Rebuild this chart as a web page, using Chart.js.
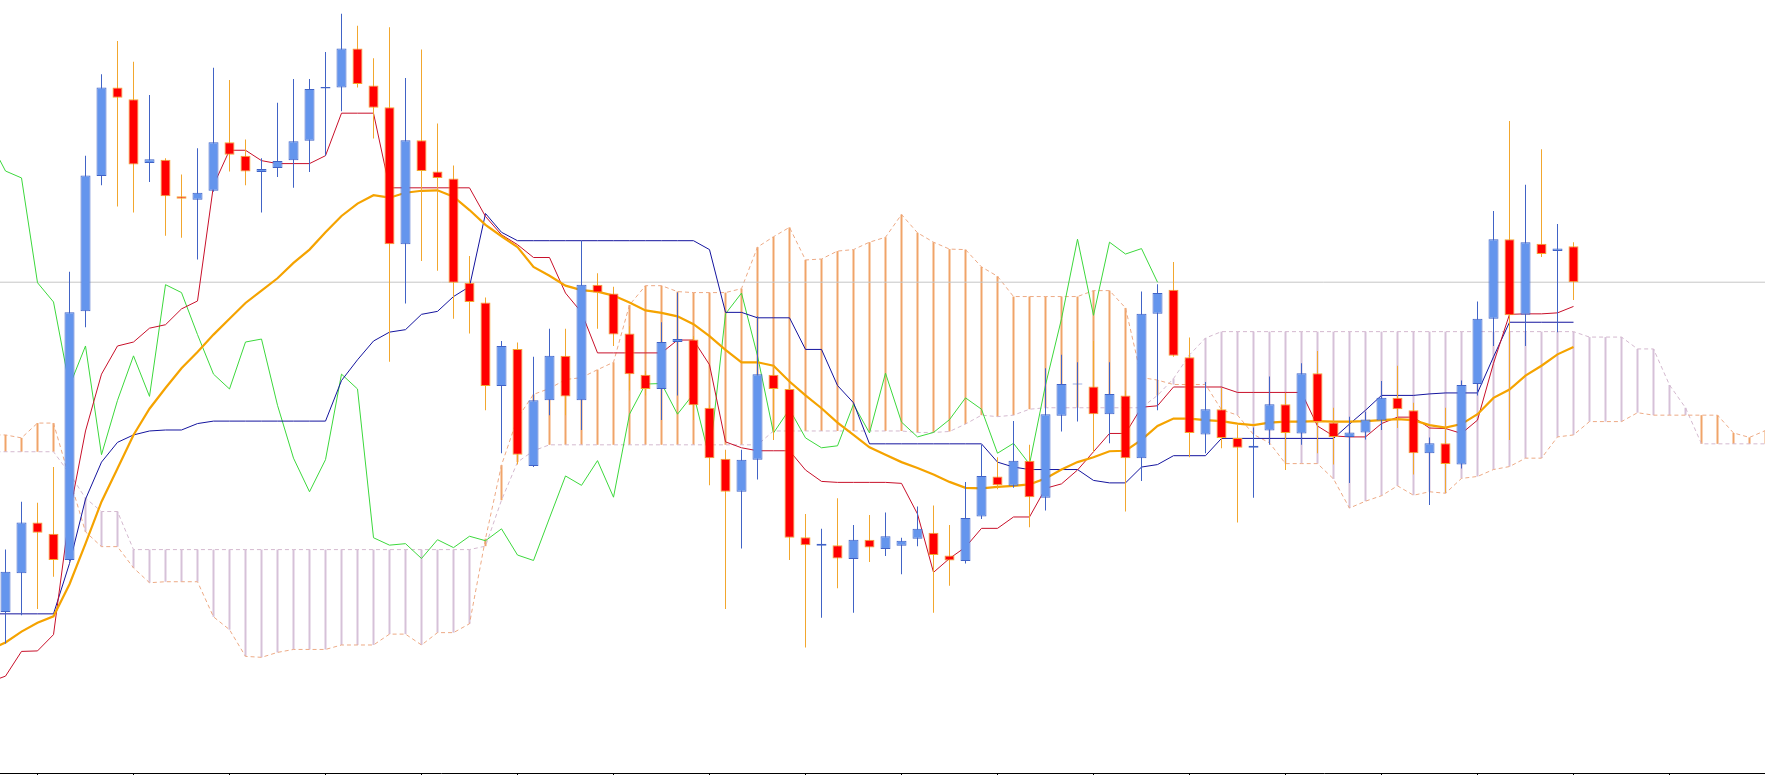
<!DOCTYPE html>
<html><head><meta charset="utf-8">
<script src="https://cdn.jsdelivr.net/npm/chart.js@4.4.1/dist/chart.umd.min.js"></script>
<style>html,body{margin:0;padding:0;background:#fff;overflow:hidden}canvas{display:block}</style>
</head><body>
<canvas id="c" width="1765" height="775"></canvas>
<script>
// ---- Candles (bar 0 .. 98), price in points ----
const opens = [
362,440,543,520,467,970,1244,1423,1399,1270,
1277,1203,1196,1214,1312,1285,1252,1260,1276,1315,
1421,1423,1502,1427,1383,1106,1316,1253,1239,1028,
988,819,894,657,790,880,790,1024,1006,925,
842,813,908,913,775,672,605,670,842,813,
513,496,497,469,508,489,496,510,522,476,
465,555,636,617,668,593,759,822,818,762,
800,673,965,1014,877,721,772,714,694,729,
782,723,845,745,716,725,749,795,770,683,
703,660,823,955,1116,963,1107,1092,1102];
const highs = [
488,585,583,655,1050,1285,1450,1517,1475,1408,
1280,1247,1300,1463,1438,1318,1280,1392,1440,1440,
1495,1572,1548,1482,1545,1442,1500,1350,1265,1082,
998,910,907,878,935,935,1113,1047,1020,940,
850,948,1008,920,780,690,690,960,860,820,
560,530,592,538,558,563,512,575,577,538,
625,700,675,748,700,855,882,867,910,867,
810,1010,1025,1070,917,827,815,740,735,838,
805,865,890,775,757,767,829,860,785,715,
775,830,990,1173,1355,1226,1298,1147,1110];
const lows = [
298,355,368,433,465,938,1225,1182,1170,1232,
1123,1119,1075,1212,1253,1225,1170,1242,1220,1252,
1285,1375,1423,1320,868,986,1072,1052,955,925,
770,683,660,655,760,760,730,935,900,810,
800,750,800,750,618,368,490,630,710,467,
290,350,410,360,463,475,438,495,360,415,
460,550,610,613,533,567,727,747,685,703,
565,627,770,878,675,683,693,543,593,700,
649,700,683,660,623,711,730,734,640,578,
603,652,800,900,710,900,1080,928,993];
const closes = [
443,543,522,467,968,1245,1423,1402,1267,1278,
1203,1198,1210,1312,1287,1253,1258,1274,1314,1420,
1424,1502,1430,1382,1106,1316,1254,1240,1028,989,
819,900,680,790,880,798,1024,1008,923,843,
813,908,914,780,673,605,670,843,813,512,
497,500,470,508,492,515,506,530,477,466,
552,637,618,668,594,762,823,824,762,803,
673,965,1007,880,724,772,714,694,698,782,
724,845,746,716,725,751,795,772,683,703,
661,821,955,1116,962,1110,1086,1097,1029];

// ---- Indicator series, first value belongs to bar -1 ----
const IND_START = -1;
const tenkan = [
220,232,282,283,316,560,728,843,900,908,936,
943,975,991,1225,1296,1296,1275,1269,1269,1269,
1285,1371,1371,1371,1220,1220,1220,1220,1220,1220,
1162,1125,1105,1079,1079,1007,968,886,886,886,
886,886,912,912,862,706,694,688,688,688,
649,626,624,624,624,624,622,560,442,470,
493,531,531,554,554,612,621,649,686,723,
723,776,779,817,817,817,817,806,806,806,
806,806,738,718,716,716,743,756,756,734,
733,723,750,865,964,965,965,967,980];
const kijun = [
358,358,358,358,358,460,590,665,705,720,728,
730,730,743,748,748,748,748,748,748,748,
748,830,872,910,928,933,964,970,1000,1020,
1168,1130,1113,1113,1113,1113,1113,1113,1113,1113,
1113,1113,1113,1113,1095,968,968,957,957,957,
893,893,820,785,702,702,702,702,702,702,
702,702,665,655,650,650,650,650,628,623,
623,655,660,678,678,678,713,713,713,713,
713,713,713,713,742,770,800,800,800,803,
805,805,805,878,948,948,948,948,948];
const movingAvg = [
285,300,322,340,353,418,500,585,652,720,773,
815,855,888,923,955,987,1012,1037,1068,1095,
1130,1163,1188,1205,1200,1210,1214,1215,1202,1175,
1145,1122,1100,1060,1042,1022,1013,1010,1002,988,
972,967,960,944,920,892,867,867,860,828,
800,774,745,720,695,680,665,653,640,625,
613,612,615,617,620,632,650,665,675,687,
688,710,738,753,753,750,748,743,740,745,
747,747,748,747,747,748,750,752,750,740,
735,742,762,795,812,840,860,883,898];
const chikou = [
1316,1254,1240,1028,989,819,900,680,790,880,798,
1024,1008,923,843,813,908,914,780,673,605,
670,843,813,512,497,500,470,508,492,515,
506,530,477,466,552,637,618,668,594,762,
823,824,762,803,673,965,1007,880,724,772,
714,694,698,782,724,845,746,716,725,751,
795,772,683,703,661,821,955,1116,962,1110,
1086,1097,1029];
const spanA = [
720,720,714,744,744,632,524,494,494,451,421,
423,423,423,352,326,272,270,280,286,286,
286,295,295,295,317,317,295,320,320,338,
510,659,754,802,814,832,836,852,867,983,
1022,1022,1010,1008,1008,1008,1016,1100,1121,1140,
1074,1076,1092,1095,1110,1120,1166,1129,1110,1096,
1095,1060,1041,1000,1000,1000,1000,1000,1012,1012,
977,836,831,822,822,822,771,760,721,704,
662,662,662,631,572,586,597,617,598,605,
602,632,636,650,656,673,673,716,720,747,
747,747,765,760,760,760,760,760,724,715,
729];
const spanB = [
686,686,686,686,686,642,592,565,565,488,488,
488,488,488,488,488,488,488,488,488,488,
488,488,488,488,488,488,488,488,488,488,
495,588,665,688,700,700,700,700,700,700,
700,700,700,700,700,700,700,700,728,728,
728,728,728,728,728,728,728,725,725,727,
742,760,757,760,772,775,775,775,775,775,
775,775,800,834,882,916,929,929,929,929,
929,929,929,929,929,929,929,929,929,929,
929,929,929,929,929,929,929,929,929,918,
918,918,894,894,821,775,702,702,702,702,
702];
const lastPrice = 1029;
const tickBars = [2,8,14,20,26,32,38,44,50,56,62,68,74,80,86,92,98,104];

// ---- view ----
const X_MIN = -0.34375, X_MAX = 109.96875;
const Y_MIN = 36, Y_MAX = 1600;

const BULL_FILL = '#6495ED', BULL_LINE = '#4163C6';
const BEAR_FILL = '#FF0000', BEAR_LINE = '#F2A72E';
const KUMO_UP = '#F0A469', KUMO_DN = '#D6C1D8';

const idx = opens.map((_, i) => i);
const bull = idx.map(i => closes[i] >= opens[i]);
const bodyData = idx.map(i => ({x: i, y: [opens[i], closes[i]]}));
const wickData = idx.map(i => ({x: i, y: [lows[i], highs[i]]}));
const series = arr => arr.map((v, k) => ({x: k + IND_START, y: v}));
const hatchData = spanA.map((a, k) => ({x: k + IND_START, y: [spanB[k], a]}));
const hatchColors = spanA.map((a, k) => a > spanB[k] ? KUMO_UP : KUMO_DN);

const lineBase = {type: 'line', pointRadius: 0, borderWidth: 1, tension: 0, fill: false};

new Chart(document.getElementById('c'), {
  type: 'line',
  data: {
    datasets: [
      {type: 'bar', label: 'body', data: bodyData, order: 0, grouped: false, barThickness: 10,
       backgroundColor: idx.map(i => bull[i] ? BULL_FILL : BEAR_FILL),
       borderColor: idx.map(i => bull[i] ? BULL_LINE : BEAR_LINE),
       borderWidth: 1, borderSkipped: false, inflateAmount: 0},
      {type: 'bar', label: 'wick', data: wickData, order: 1, grouped: false, barThickness: 1,
       backgroundColor: idx.map(i => bull[i] ? BULL_LINE : BEAR_LINE),
       borderWidth: 0, inflateAmount: 0},
      {...lineBase, label: 'MA', data: series(movingAvg), borderColor: '#F5A300', borderWidth: 2.2, order: 2},
      {...lineBase, label: 'Tenkan-sen', data: series(tenkan), borderColor: '#C8102A', order: 3},
      {...lineBase, label: 'Kijun-sen', data: series(kijun), borderColor: '#14149E', order: 4},
      {...lineBase, label: 'Chikou Span', data: series(chikou), borderColor: '#3CD83C', order: 5},
      {...lineBase, label: 'price', data: [{x: X_MIN, y: lastPrice}, {x: X_MAX, y: lastPrice}], borderColor: '#C6C6C6', order: 6},
      {...lineBase, label: 'Senkou A', data: series(spanA), borderColor: '#EDAA85', borderDash: [4, 3], order: 7},
      {...lineBase, label: 'Senkou B', data: series(spanB), borderColor: '#D4B9CF', borderDash: [4, 3], order: 8},
      {type: 'bar', label: 'kumo', data: hatchData, order: 9, grouped: false, barThickness: 2,
       backgroundColor: hatchColors, borderWidth: 0, inflateAmount: 0}
    ]
  },
  options: {
    responsive: false, devicePixelRatio: 1, animation: false, events: [],
    layout: {padding: 0},
    plugins: {legend: {display: false}, tooltip: {enabled: false}, title: {display: false}},
    scales: {
      x: {type: 'linear', min: X_MIN, max: X_MAX, offset: false,
          grid: {display: true, drawOnChartArea: false, drawTicks: true, tickLength: 2, color: '#000', lineWidth: 1, offset: false},
          border: {display: true, color: '#000', width: 1},
          ticks: {display: false},
          afterBuildTicks: s => { s.ticks = tickBars.map(v => ({value: v})); }},
      y: {type: 'linear', display: false, min: Y_MIN, max: Y_MAX}
    }
  }
});
</script>
</body></html>
